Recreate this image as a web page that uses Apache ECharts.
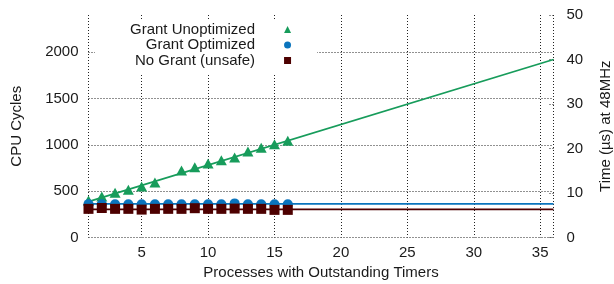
<!DOCTYPE html>
<html>
<head>
<meta charset="utf-8">
<script src="https://cdn.jsdelivr.net/npm/echarts@6/dist/echarts.min.js"></script>
<style>
  html, body { margin: 0; padding: 0; background: #fff; }
  #chart { width: 614px; height: 284px; }
</style>
</head>
<body>
<div id="chart"></div>
<script>
// 进程数（x 轴）
const unoptX = [1, 2, 3, 4, 5, 6, 8, 9, 10, 11, 12, 13, 14, 15, 16];
const unoptY = [400, 443, 483, 515, 550, 593, 722, 757, 797, 832, 864, 928, 968, 1007, 1043];
const procX = [1, 2, 3, 4, 5, 6, 7, 8, 9, 10, 11, 12, 13, 14, 15, 16];
const optY = [360, 358, 358, 358, 358, 358, 358, 358, 358, 358, 358, 368, 358, 358, 358, 358];
const noGrantY = [309, 318, 309, 309, 301, 309, 309, 309, 316, 309, 309, 312, 309, 309, 298, 298];
// 拟合线端点
const fitX = [1, 36];
const unoptFit = [387, 1920];
const optFit = [362, 362];
const noGrantFit = [304, 304];

const names = ['Grant Unoptimized', 'Grant Optimized', 'No Grant (unsafe)'];
const colors = ['#179c5b', '#0a74bd', '#4d0000'];
const font = 'Liberation Sans';
const dotted = { color: '#222', width: 1, type: [1, 2] };

const pairs = (xs, ys) => xs.map((x, i) => [x, ys[i]]);

const lineSeries = (data, color) => ({
  type: 'line',
  data: data,
  showSymbol: false,
  silent: true,
  z: 2,
  lineStyle: { color: color, width: 1.8 }
});

const option = {
  animation: false,
  textStyle: { fontFamily: font, color: '#1a1a1a' },
  grid: { left: 88.5, right: 60.5, top: 15, bottom: 46.5, outerBoundsMode: 'none', containLabel: false },
  legend: {
    orient: 'vertical',
    align: 'right',
    left: 95,
    top: 20,
    padding: [2, 26, 5, 35],
    backgroundColor: '#fff',
    itemGap: 0.5,
    itemWidth: 7,
    itemHeight: 7,
    textStyle: { fontSize: 15, color: '#1a1a1a', fontFamily: font, padding: [0, 24, 0, 0] },
    data: [
      { name: names[0], icon: 'triangle' },
      { name: names[1], icon: 'circle' },
      { name: names[2], icon: 'rect' }
    ]
  },
  xAxis: {
    type: 'value',
    min: 1,
    max: 36,
    splitNumber: 7,
    minInterval: 5,
    maxInterval: 5,
    name: 'Processes with Outstanding Timers',
    nameLocation: 'middle',
    nameGap: 26,
    nameTextStyle: { fontSize: 15, color: '#1a1a1a' },
    axisLine: { show: false },
    axisTick: { show: false },
    axisLabel: { fontSize: 15, margin: 8, color: '#1a1a1a', showMinLabel: false, showMaxLabel: false },
    splitLine: { show: true, lineStyle: dotted }
  },
  yAxis: [
    {
      type: 'value',
      min: 0,
      max: 2400,
      interval: 500,
      name: 'CPU Cycles',
      nameLocation: 'middle',
      nameGap: 64,
      nameTextStyle: { fontSize: 15, color: '#1a1a1a' },
      axisLine: { show: false },
      axisTick: { show: false },
      axisLabel: { fontSize: 15, margin: 10, color: '#1a1a1a', showMaxLabel: false, formatter: v => String(v) },
      splitLine: { show: true, showMaxLine: false, lineStyle: dotted }
    },
    {
      type: 'value',
      min: 0,
      max: 50,
      interval: 10,
      position: 'right',
      name: 'Time (µs) at 48MHz',
      nameLocation: 'middle',
      nameGap: 45,
      nameTextStyle: { fontSize: 15, color: '#1a1a1a' },
      axisLine: { show: false },
      axisTick: { show: true, inside: true, length: 6, lineStyle: dotted },
      axisLabel: { fontSize: 15, margin: 13, color: '#1a1a1a' },
      splitLine: { show: false }
    }
  ],
  series: [
    lineSeries(pairs(fitX, unoptFit), colors[0]),
    lineSeries(pairs(fitX, optFit), colors[1]),
    lineSeries(pairs(fitX, noGrantFit), colors[2]),
    {
      name: names[0], type: 'scatter', z: 3,
      symbol: 'triangle', symbolSize: [11, 10],
      itemStyle: { color: colors[0], opacity: 1 },
      data: pairs(unoptX, unoptY)
    },
    {
      name: names[1], type: 'scatter', z: 3,
      symbol: 'circle', symbolSize: 10,
      itemStyle: { color: colors[1], opacity: 1 },
      data: pairs(procX, optY)
    },
    {
      name: names[2], type: 'scatter', z: 3,
      symbol: 'rect', symbolSize: 10,
      itemStyle: { color: colors[2], opacity: 1 },
      data: pairs(procX, noGrantY)
    }
  ]
};

const chart = echarts.init(document.getElementById('chart'), null, { renderer: 'canvas' });
chart.setOption(option);
</script>
</body>
</html>
